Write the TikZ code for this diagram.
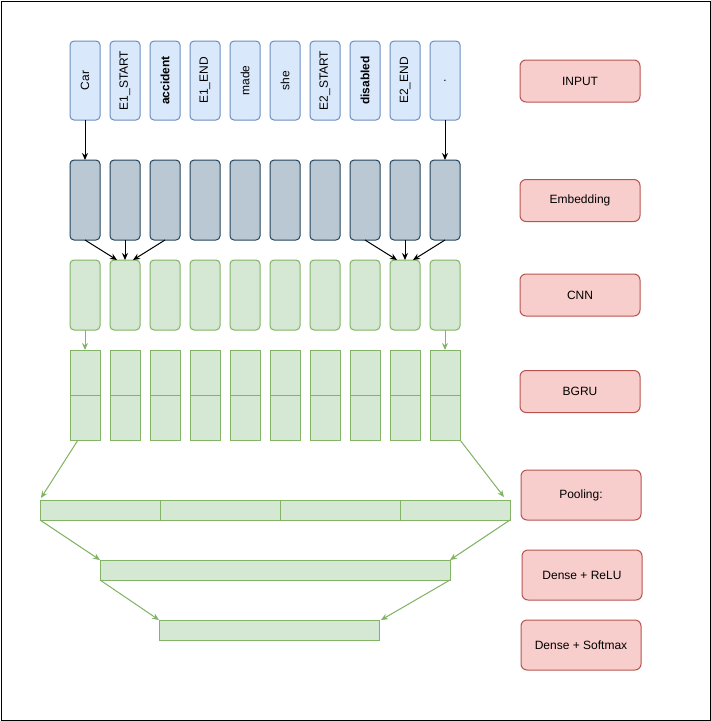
\documentclass[tikz,border=0pt]{standalone}
\usepackage{fontspec}
\setmainfont{Liberation Sans}
\usetikzlibrary{arrows.meta,%
                positioning}

\definecolor{inFill}{HTML}{DAE8FC}
\definecolor{inLine}{HTML}{6C8EBF}
\definecolor{embFill}{HTML}{BAC8D3}
\definecolor{embLine}{HTML}{23445D}
\definecolor{grFill}{HTML}{D5E8D4}
\definecolor{grLine}{HTML}{82B366}
\definecolor{labFill}{HTML}{F8CECC}
\definecolor{labLine}{HTML}{B85450}

\begin{document}
\begin{tikzpicture}[x=1pt,y=-1pt,>={Stealth[length=7pt,width=6pt]}]
  \tikzset{node distance = 10pt}
  \tikzset{BoxStyle/.style={draw, line width=1pt, inner sep=0pt, outer sep=0pt,
                            font=\fontsize{12}{14}\selectfont}}
  \tikzset{InStyle/.style={BoxStyle, rounded corners=4pt, fill=inFill, draw=inLine,
                           minimum width=30pt, minimum height=79pt}}
  \tikzset{EmbStyle/.style={BoxStyle, rounded corners=4pt, fill=embFill, draw=embLine,
                            minimum width=30pt, minimum height=80pt}}
  \tikzset{CnnStyle/.style={BoxStyle, rounded corners=4pt, fill=grFill, draw=grLine,
                            minimum width=30pt, minimum height=70pt}}
  \tikzset{GruStyle/.style={BoxStyle, fill=grFill, draw=grLine,
                            minimum width=30pt, minimum height=90pt}}
  \tikzset{BarStyle/.style={BoxStyle, fill=grFill, draw=grLine, minimum height=20pt}}
  \tikzset{LabStyle/.style={BoxStyle, rounded corners=6pt, fill=labFill, draw=labLine,
                            minimum width=120pt}}
  \tikzset{EdgeStyle/.style={->, line width=1pt}}
  \tikzset{GreenEdge/.style={->, line width=1pt, draw=grLine, fill=grLine}}

  \useasboundingbox (0,0) rectangle (711,721);
  \draw[line width=1pt] (1,1) rectangle (710,720);

  % word columns
  \node[InStyle] (in1) at (85,80.5) {\rotatebox{90}{Car}};
  \foreach \w [count=\i from 2, remember=\i as \j (initially 1)] in
    {E1\_START,\textbf{accident},E1\_END,made,she,E2\_START,\textbf{disabled},E2\_END,.}
    \node[InStyle, right=of in\j] (in\i) {\rotatebox{90}{\w}};

  \foreach \i in {1,...,10}{
    \node[EmbStyle, below=40pt of in\i] (emb\i) {};
    \node[CnnStyle, below=20pt of emb\i] (cnn\i) {};
    \node[GruStyle, below=20pt of cnn\i] (gru\i) {};
    \draw[grLine, line width=1pt] (gru\i.west) -- (gru\i.east);
  }

  % pooling and dense layers
  \node[BarStyle, minimum width=120pt] (pool1) at (100,510) {};
  \node[BarStyle, minimum width=120pt, right=0pt of pool1] (pool2) {};
  \node[BarStyle, minimum width=120pt, right=0pt of pool2] (pool3) {};
  \node[BarStyle, minimum width=110pt, right=0pt of pool3] (pool4) {};
  \node[BarStyle, minimum width=350pt] (dense) at (275,570) {};
  \node[BarStyle, minimum width=220pt] (soft) at (269,630) {};

  % layer names
  \node[LabStyle, minimum height=42pt] (lInput) at (580,81) {INPUT};
  \node[LabStyle, minimum height=42pt] (lEmb) at (580,200.5) {Embedding};
  \node[LabStyle, minimum height=42pt] (lCnn) at (580,295) {CNN};
  \node[LabStyle, minimum height=42pt] (lGru) at (580,391.5) {BGRU};
  \node[LabStyle, minimum height=50pt] (lPool) at (581,495) {Pooling:};
  \node[LabStyle, minimum height=50pt] (lRelu) at (582,575) {Dense + ReLU};
  \node[LabStyle, minimum height=50pt] (lSoft) at (581,645) {Dense + Softmax};

  \draw[EdgeStyle] (in1) -- (emb1);
  \draw[EdgeStyle] (in10) -- (emb10);
  \draw[EdgeStyle] (emb1.south) -- ([xshift=-8pt]cnn2.north);
  \draw[EdgeStyle] (emb2) -- (cnn2);
  \draw[EdgeStyle] (emb3.south) -- ([xshift=8pt]cnn2.north);
  \draw[EdgeStyle] (emb8.south) -- ([xshift=-8pt]cnn9.north);
  \draw[EdgeStyle] (emb9) -- (cnn9);
  \draw[EdgeStyle] (emb10.south) -- ([xshift=8pt]cnn9.north);
  %\draw[EdgeStyle] (emb5) -- (cnn5);

  \draw[GreenEdge] (cnn1) -- (gru1);
  \draw[GreenEdge] (cnn10) -- (gru10);
  \draw[GreenEdge] ([xshift=-7pt]gru1.south) -- ([xshift=1pt,yshift=2pt]pool1.north west);
  \draw[GreenEdge] (gru10.south east) -- ([xshift=-6pt,yshift=3pt]pool4.north east);
  \draw[GreenEdge] (pool1.south west) -- (dense.north west);
  \draw[GreenEdge] (pool4.south east) -- (dense.north east);
  \draw[GreenEdge] (dense.south west) -- (soft.north west);
  \draw[GreenEdge] (dense.south east) -- ([xshift=2pt]soft.north east);
\end{tikzpicture}
\end{document}
